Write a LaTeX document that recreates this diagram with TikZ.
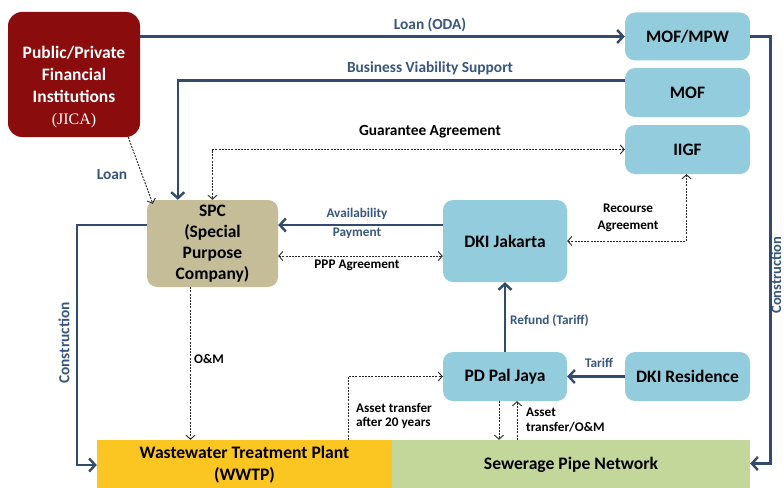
\documentclass[tikz,border=0pt]{standalone}
\usepackage{fontspec}
\setmainfont{Carlito}
\newfontfamily\jicafont{Liberation Serif}
\usetikzlibrary{arrows.meta}
\definecolor{pubred}{RGB}{139,12,12}
\definecolor{boxblue}{RGB}{147,205,221}
\definecolor{spctan}{RGB}{196,189,151}
\definecolor{wwtpyel}{RGB}{252,198,34}
\definecolor{pipegreen}{RGB}{196,215,155}
\definecolor{linecol}{RGB}{50,74,108}
\definecolor{lblblue}{RGB}{55,85,125}
\tikzset{
  rbox/.style={rectangle, rounded corners=10pt, draw=none, align=center, font=\fontsize{17.5}{21}\selectfont\bfseries, inner sep=0pt},
  bluebox/.style={rbox, fill=boxblue},
  flatbox/.style={rectangle, draw=none, inner sep=0pt, align=center, font=\fontsize{17.6}{22}\selectfont\bfseries},
  solidarrow/.style={draw=linecol, line width=2.6pt, -{Straight Barb[length=6pt,width=13pt,line width=2.4pt]}},
  dotline/.style={draw=black!85, line width=0.9pt, dash pattern=on 2pt off 1.2pt},
  dtip/.style={dotline, -{Straight Barb[length=4pt,width=9pt,line width=0.9pt]}},
  dboth/.style={dotline, {Straight Barb[length=4pt,width=9pt,line width=0.9pt]}-{Straight Barb[length=4pt,width=9pt,line width=0.9pt]}},
  biglbl/.style={font=\fontsize{15.4}{18}\selectfont\bfseries, inner sep=0pt},
  smlbl/.style={font=\fontsize{13.2}{14.5}\selectfont\bfseries, inner sep=0pt, align=left},
}
\begin{document}
\begin{tikzpicture}[x=1pt,y=-1pt]
\useasboundingbox (0,0) rectangle (784,487);

% boxes
\node[rbox, fill=pubred, rounded corners=14pt, minimum width=132pt, minimum height=125pt] (pub) at (74,74.5) {};
\node[align=center, text=white, font=\fontsize{17.5}{22}\selectfont\bfseries, inner sep=0pt] (pubtext) at (74,87)
  {Public/Private\\Financial\\Institutions\\{\jicafont\mdseries\fontsize{16}{22}\selectfont(JICA)}};
\node[bluebox, minimum width=125pt, minimum height=48pt] (mofmpw) at (687.5,36.5) {MOF/MPW};
\node[bluebox, minimum width=125pt, minimum height=49pt] (mof) at (687.5,92.5) {MOF};
\node[bluebox, minimum width=125pt, minimum height=49pt] (iigf) at (687.5,149.5) {IIGF};
\node[rbox, fill=spctan, minimum width=131pt, minimum height=87pt] (spc) at (212.5,243.5) {SPC\\(Special\\Purpose\\Company)};
\node[bluebox, minimum width=124pt, minimum height=82pt] (dkij) at (505,241) {DKI Jakarta};
\node[bluebox, minimum width=124pt, minimum height=49pt] (pdpal) at (505,376.5) {PD Pal Jaya};
\node[bluebox, minimum width=125pt, minimum height=49pt] (dkires) at (687.5,376.5) {DKI Residence};
\node[flatbox, fill=wwtpyel, minimum width=295pt, minimum height=50pt] (wwtp) at (244.5,465) {Wastewater Treatment Plant\\(WWTP)};
\node[flatbox, fill=pipegreen, minimum width=358pt, minimum height=50pt] (sewer) at (571,465) {Sewerage Pipe Network};

% solid connectors
\draw[solidarrow] (mofmpw.west -| pub.east) -- (mofmpw.west);
\draw[solidarrow] ([yshift=12pt]mof.west) -| ([xshift=31pt]spc.north west);
\draw[solidarrow] ([yshift=16pt]dkij.west) -- ([yshift=16pt]dkij.west -| spc.east);
\draw[solidarrow] (pdpal.north) -- (dkij.south);
\draw[solidarrow] (dkires.west) -- (pdpal.east);
\draw[solidarrow] (mofmpw.east) -- ++(20,0) |- ([yshift=1.5pt]sewer.east);
\draw[solidarrow] ([yshift=18.5pt]spc.west) -- ++(-70,0) |- (wwtp.west);

% dotted connectors
\draw[dboth] (iigf.west) -| (spc.north);
\draw[dtip] ([xshift=-12pt]pub.south east) -- ([shift={(6,4)}]spc.north west);
\draw[dboth] ([yshift=-15pt]dkij.west -| spc.east) -- ([yshift=-15pt]dkij.west);
\draw[dboth] (dkij.east) -| ([xshift=-1pt]iigf.south);
\draw[dtip] ([xshift=-22pt]spc.south) -- ([xshift=-22pt]spc.south |- wwtp.north);
\draw[dtip] ([xshift=-44pt]wwtp.north east) |- (pdpal.west);
\draw[dtip] ([xshift=-6pt]pdpal.south) -- ([xshift=-6pt]pdpal.south |- sewer.north);
\draw[dtip] ([xshift=12pt]pdpal.south |- sewer.north) -- ([xshift=12pt]pdpal.south);

% labels
\node[biglbl, text=lblblue] (l1) at (430,25) {Loan (ODA)};
\node[biglbl, text=lblblue] (l2) at (430,68) {Business Viability Support};
\node[biglbl] (l3) at (430,132) {Guarantee Agreement};
\node[biglbl, text=lblblue] (l4) at (112,175) {Loan};
\node[smlbl, text=lblblue] (l5) at (357,214) {Availability};
\node[smlbl, text=lblblue] (l6) at (357,233) {Payment};
\node[smlbl] (l7) at (357,265) {PPP Agreement};
\node[smlbl] (l8) at (628,208) {Recourse};
\node[smlbl] (l9) at (628,226) {Agreement};
\node[smlbl] (l10) at (209,359) {O\&M};
\node[smlbl, anchor=west] (l11) at (356,416) {Asset transfer\\after 20 years};
\node[smlbl, text=lblblue, anchor=west] (l12) at (510,321) {Refund (Tariff)};
\node[smlbl, text=lblblue] (l13) at (599,363) {Tariff};
\node[smlbl, anchor=west] (l14) at (526,420) {Asset\\transfer/O\&M};
\node[biglbl, text=lblblue, rotate=90] (l15) at (64,343) {Construction};
\node[text=lblblue, rotate=90, font=\fontsize{14.5}{17}\selectfont\bfseries, inner sep=0pt] (l16) at (776,275) {Construction};
\end{tikzpicture}
\end{document}
